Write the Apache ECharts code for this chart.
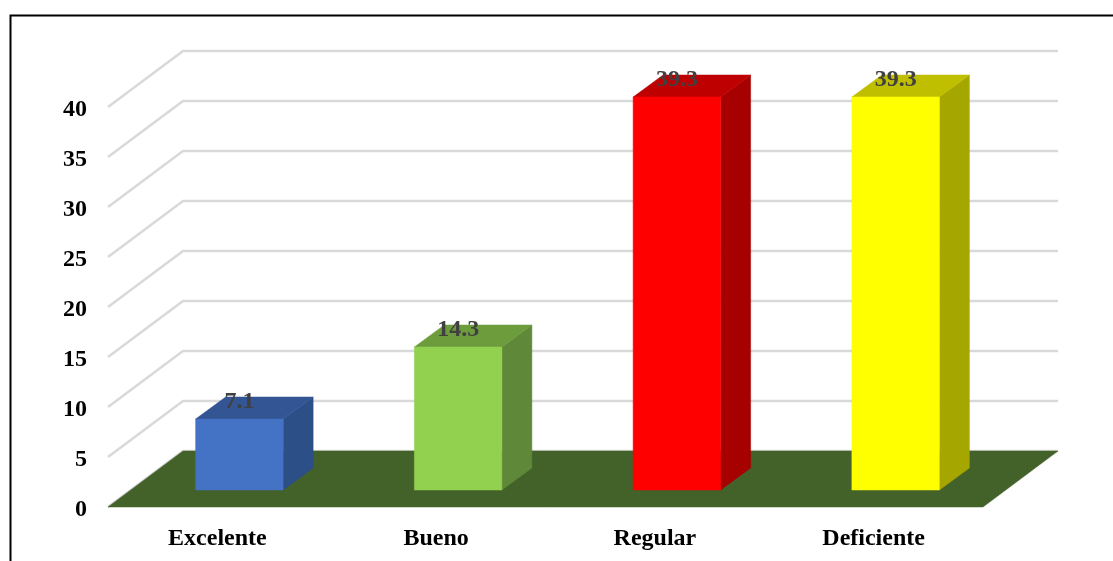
<!DOCTYPE html>
<html lang="es">
<head>
<meta charset="utf-8">
<title>Nivel por categoría</title>
<style>
  html, body { margin: 0; padding: 0; background: #ffffff; }
  #chart { width: 1113px; height: 561px; }
</style>
<script src="https://cdn.jsdelivr.net/npm/echarts@6/dist/echarts.min.js"></script>
</head>
<body>
<div id="chart"></div>
<script>
// Chart values
const categories = ['Excelente', 'Bueno', 'Regular', 'Deficiente'];
const percentages = [7.1, 14.3, 39.3, 39.3];
const tickValues = [0, 5, 10, 15, 20, 25, 30, 35, 40];

// Face colours per bar: front, top, side
const frontColors = ['#4472c4', '#92d050', '#ff0000', '#ffff00'];
const topColors = ['#335593', '#6d9c3c', '#bf0000', '#bfbf00'];
const sideColors = ['#2c4f88', '#5f8838', '#a60000', '#a6a600'];

// Oblique projection of the chart's depth axis, in pixels
const WALL_DX = 75, WALL_DY = -56;
const BAR_SHIFT_X = 22, BAR_SHIFT_Y = -17;
const BAR_DX = 30, BAR_DY = -22;
const BAR_BAND_RATIO = 0.4;
const FONT = '"Liberation Serif", "Times New Roman", serif';

function face(points, color) {
  return { type: 'polygon', shape: { points }, style: { fill: color, stroke: color, lineWidth: 0.5 } };
}

// Horizontal gridline on the back wall plus its run along the side wall
function renderGridline(params, api) {
  const cs = params.coordSys;
  const y = api.coord([0, api.value(0)])[1];
  return {
    type: 'polyline',
    shape: { points: [
      [cs.x, y],
      [cs.x + WALL_DX, y + WALL_DY],
      [cs.x + cs.width + WALL_DX, y + WALL_DY]
    ] },
    style: { stroke: '#d9d9d9', lineWidth: 2.5, fill: null }
  };
}

// Floor parallelogram at the value of its datum
function renderFloor(params, api) {
  const cs = params.coordSys;
  const y = api.coord([0, api.value(0)])[1];
  return face([
    [cs.x, y],
    [cs.x + WALL_DX, y + WALL_DY],
    [cs.x + cs.width + WALL_DX, y + WALL_DY],
    [cs.x + cs.width, y]
  ], '#43622a');
}

// One box: front, top and side faces with the value written above it
function renderBar(params, api) {
  const i = api.value(0);
  const value = api.value(1);
  const top = api.coord([i, value]);
  const base = api.coord([i, 0]);
  const halfWidth = api.size([1, 0])[0] * BAR_BAND_RATIO / 2;
  const x0 = top[0] + BAR_SHIFT_X - halfWidth;
  const x1 = top[0] + BAR_SHIFT_X + halfWidth;
  const yTop = top[1] + BAR_SHIFT_Y;
  const yBase = base[1] + BAR_SHIFT_Y;
  return {
    type: 'group',
    children: [
      face([[x1, yTop], [x1 + BAR_DX, yTop + BAR_DY], [x1 + BAR_DX, yBase + BAR_DY], [x1, yBase]], sideColors[i]),
      face([[x0, yTop], [x0 + BAR_DX, yTop + BAR_DY], [x1 + BAR_DX, yTop + BAR_DY], [x1, yTop]], topColors[i]),
      face([[x0, yTop], [x1, yTop], [x1, yBase], [x0, yBase]], frontColors[i]),
      {
        type: 'text',
        style: {
          x: top[0] + BAR_SHIFT_X,
          y: yTop - 17,
          text: value.toFixed(1),
          fill: '#404040',
          font: 'bold 24px ' + FONT,
          align: 'center',
          verticalAlign: 'middle'
        }
      }
    ]
  };
}

const chart = echarts.init(document.getElementById('chart'), null, { renderer: 'canvas' });
chart.setOption({
  animation: false,
  backgroundColor: '#ffffff',
  graphic: [{
    type: 'polyline',
    silent: true,
    shape: { points: [[10.5, 561], [10.5, 15.5], [1113, 15.5]] },
    style: { stroke: '#000000', lineWidth: 2, fill: null }
  }],
  grid: { left: 108, right: 130, top: 107, bottom: 54, containLabel: false },
  xAxis: {
    type: 'category',
    data: categories,
    axisLine: { show: false },
    axisTick: { show: false },
    splitLine: { show: false },
    axisLabel: { color: '#000000', fontFamily: FONT, fontWeight: 'bold', fontSize: 24, margin: 20 }
  },
  yAxis: {
    type: 'value',
    min: 0,
    max: 40,
    interval: 5,
    axisLine: { show: false },
    axisTick: { show: false },
    splitLine: { show: false },
    axisLabel: {
      color: '#000000', fontFamily: FONT, fontWeight: 'bold', fontSize: 24, margin: 21,
      verticalAlign: 'top', lineHeight: 6
    }
  },
  series: [
    {
      type: 'custom',
      name: 'Líneas',
      renderItem: renderGridline,
      data: tickValues.map(v => [v]),
      encode: { y: 0 },
      clip: false,
      silent: true,
      z: 1
    },
    {
      type: 'custom',
      name: 'Base',
      renderItem: renderFloor,
      data: [[tickValues[0]]],
      encode: { y: 0 },
      clip: false,
      silent: true,
      z: 2
    },
    {
      type: 'custom',
      name: 'Porcentaje',
      renderItem: renderBar,
      data: percentages.map((v, i) => [i, v]),
      encode: { x: 0, y: 1 },
      clip: false,
      z: 3
    }
  ]
});
</script>
</body>
</html>
